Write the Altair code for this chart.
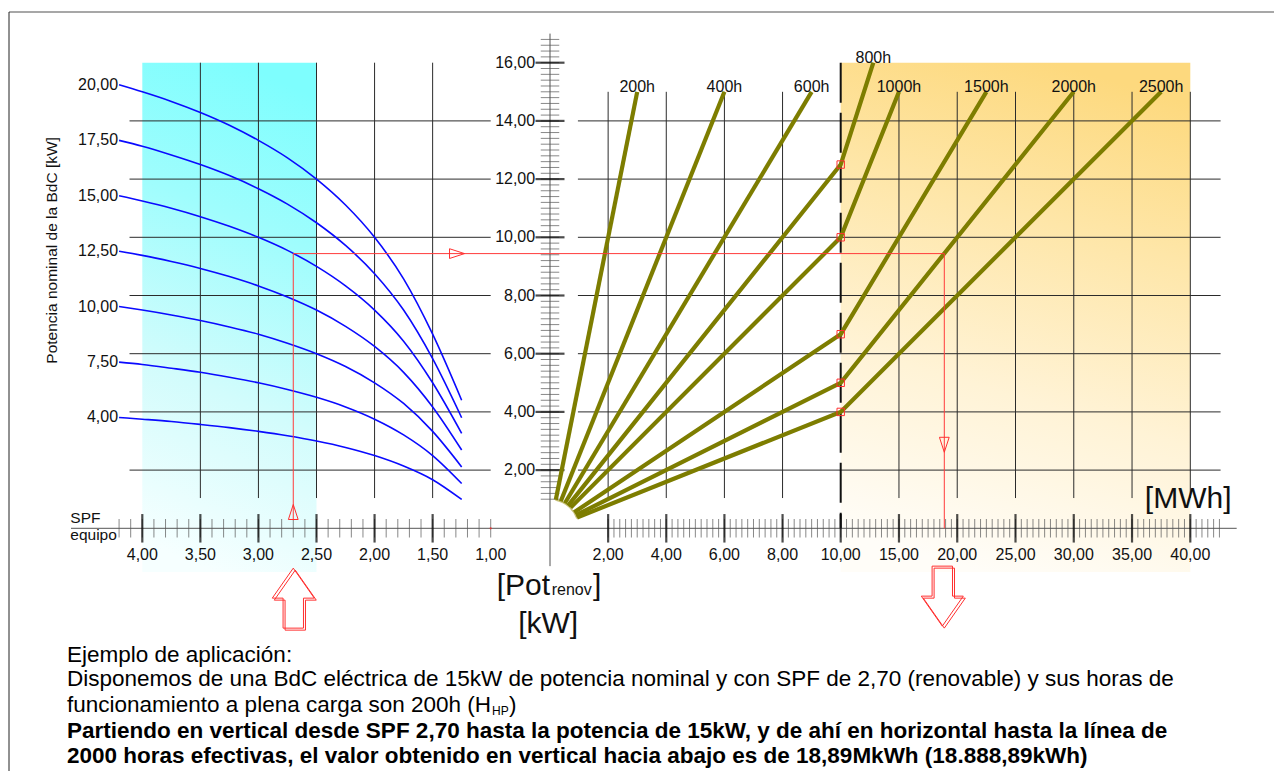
import altair as alt
import pandas as pd

FONT = "Liberation Sans"

# ---------------- values ----------------
# Left panel: SPF of the heat pump (axis runs 4,00 -> 1,00) and renewable power [kW]
spf_points = [4.2, 4.0, 3.75, 3.5, 3.25, 3.0, 2.75, 2.5, 2.25, 2.0, 1.75, 1.5, 1.25]
nominal_labels = ["20,00", "17,50", "15,00", "12,50", "10,00", "7,50", "4,00"]
pot_20 = [15.24, 15.00, 14.67, 14.29, 13.85, 13.33, 12.73, 12.00, 11.11, 10.00, 8.57, 6.67, 4.40]
pot_175 = [13.33, 13.13, 12.83, 12.50, 12.12, 11.67, 11.14, 10.50, 9.72, 8.75, 7.50, 5.83, 3.80]
pot_15 = [11.43, 11.25, 11.00, 10.71, 10.38, 10.00, 9.55, 9.00, 8.33, 7.50, 6.43, 5.00, 3.26]
pot_125 = [9.52, 9.38, 9.17, 8.93, 8.65, 8.33, 7.95, 7.50, 6.94, 6.25, 5.36, 4.17, 2.69]
pot_10 = [7.62, 7.50, 7.33, 7.14, 6.92, 6.67, 6.36, 6.00, 5.56, 5.00, 4.29, 3.33, 2.11]
pot_75 = [5.71, 5.63, 5.50, 5.36, 5.19, 5.00, 4.77, 4.50, 4.17, 3.75, 3.21, 2.50, 1.54]
pot_5 = [3.81, 3.75, 3.67, 3.57, 3.46, 3.33, 3.18, 3.00, 2.78, 2.50, 2.14, 1.67, 0.99]
curves = [pot_20, pot_175, pot_15, pot_125, pot_10, pot_75, pot_5]

# Right panel: equivalent full-load hours lines (energy [MWh] vs renewable power [kW])
hour_labels = ["200h", "400h", "600h", "800h", "1000h", "1500h", "2000h", "2500h"]
start_mwh = [0.20, 0.37, 0.51, 0.62, 0.71, 0.83, 0.89, 0.93]
start_kw = [0.98, 0.93, 0.86, 0.78, 0.71, 0.55, 0.45, 0.37]
knee_mwh = 10.0
knee_kw = [None, None, None, 12.5, 10.0, 6.67, 5.0, 4.0]
end_mwh = [3.0, 6.0, 9.0, 12.8, 15.0, 22.5, 30.0, 37.5]
end_kw = [15.0, 15.0, 15.0, 16.0, 15.0, 15.0, 15.0, 15.0]

# Axes
spf_tick_values = [4.0, 3.5, 3.0, 2.5, 2.0, 1.5, 1.0]
spf_tick_labels = ["4,00", "3,50", "3,00", "2,50", "2,00", "1,50", "1,00"]
mwh_tick_values = [2, 4, 6, 8, 10, 15, 20, 25, 30, 35, 40]
mwh_tick_labels = ["2,00", "4,00", "6,00", "8,00", "10,00", "15,00", "20,00",
                   "25,00", "30,00", "35,00", "40,00"]
kw_tick_values = [2, 4, 6, 8, 10, 12, 14, 16]
kw_tick_labels = ["2,00", "4,00", "6,00", "8,00", "10,00", "12,00", "14,00", "16,00"]

# Worked example
example_spf = 2.70
example_kw = 9.44
example_mwh = 18.89

# ---------------- tables ----------------
rows = []
for lab, vals in zip(nominal_labels, curves):
    for i, (s, v) in enumerate(zip(spf_points, vals)):
        rows.append({"curve": lab, "i": i, "u": -s, "v": v})
curves_df = pd.DataFrame(rows)
curve_lab_df = curves_df[curves_df["i"] == 0]

rows = []
for h, su, sv, kk, eu, ev in zip(hour_labels, start_mwh, start_kw, knee_kw, end_mwh, end_kw):
    pts = [(su, sv)] + ([(knee_mwh, kk)] if kk is not None else []) + [(eu, ev)]
    for i, (u, v) in enumerate(pts):
        rows.append({"h": h, "i": i, "u": u, "v": v})
hours_df = pd.DataFrame(rows)
hour_lab_df = pd.DataFrame({"h": hour_labels, "u": end_mwh, "v": end_kw})
knee_df = pd.DataFrame({"u": [knee_mwh] * 5, "v": [k for k in knee_kw if k is not None]})

spf_minor = [round(4.2 - 0.1 * i, 2) for i in range(33)]
mwh_minor = [round(2 + 0.2 * i, 2) for i in range(41)] + [round(10 + 0.5 * i, 2) for i in range(1, 66)]
kw_minor = [round(1.0 + 0.2 * i, 2) for i in range(80)]

xminor_df = pd.DataFrame({"u": [-s for s in spf_minor] + mwh_minor, "v": 0.0})
xmajor_df = pd.DataFrame({"u": [-s for s in spf_tick_values[:-1]] + mwh_tick_values, "v": 0.0})
xlab_df = pd.DataFrame({"u": [-s for s in spf_tick_values] + mwh_tick_values,
                        "t": spf_tick_labels + mwh_tick_labels, "v": -1.09})
yminor_df = pd.DataFrame({"u": 0.0, "v": kw_minor})
ymajor_df = pd.DataFrame({"u": 0.0, "v": kw_tick_values})
ylab_df = pd.DataFrame({"u": -0.25, "v": kw_tick_values, "t": kw_tick_labels})

hgrid_df = pd.DataFrame(
    [{"u": -4.11, "u2": -1.0, "v": k} for k in kw_tick_values[:-1]]
    + [{"u": 0.96, "u2": 42.6, "v": k} for k in kw_tick_values[:-1]])
vgrid_df = pd.DataFrame(
    [{"u": -s, "v": 1.04, "v2": 16.0} for s in spf_tick_values[1:-1]]
    + [{"u": m, "v": 1.04, "v2": 15.0} for m in mwh_tick_values if m != 10])

example_df = pd.DataFrame({"i": [0, 1, 2, 3],
                           "u": [-example_spf, -example_spf, example_mwh, example_mwh],
                           "v": [0.28, example_kw, example_kw, 0.0]})

# ---------------- scales ----------------
XS = alt.Scale(domain=[-4, -1, 0, 10, 40], range=[134.3, 482.7, 542.0, 832.7, 1182.3],
               nice=False, zero=False)
YS = alt.Scale(domain=[0, 16], range=[520.3, 54.7], nice=False, zero=False)


def X(f="u"):
    return alt.X(f"{f}:Q", scale=XS, axis=None)


def Y(f="v"):
    return alt.Y(f"{f}:Q", scale=YS, axis=None)


def one(**kw):
    return pd.DataFrame([kw])


layers = []

# background regions with gradients
cyan = alt.Gradient(gradient="linear", x1=0.55, y1=0, x2=0.4, y2=1,
                    stops=[alt.GradientStop(color="#7efefe", offset=0),
                           alt.GradientStop(color="#9ffdfd", offset=0.3),
                           alt.GradientStop(color="#d2fcfc", offset=0.65),
                           alt.GradientStop(color="#f6ffff", offset=1)])
orange = alt.Gradient(gradient="linear", x1=0.6, y1=0, x2=0.4, y2=1,
                      stops=[alt.GradientStop(color="#fdd97e", offset=0),
                             alt.GradientStop(color="#fee6a8", offset=0.3),
                             alt.GradientStop(color="#fff3d6", offset=0.65),
                             alt.GradientStop(color="#fffdf8", offset=1)])
layers.append(alt.Chart(one(u=-4.0, u2=-2.5, v=16.0, v2=-1.5)).mark_rect(fill=cyan)
              .encode(x=X(), x2="u2:Q", y=Y(), y2="v2:Q"))
layers.append(alt.Chart(one(u=10.0, u2=40.0, v=16.0, v2=-1.5)).mark_rect(fill=orange)
              .encode(x=X(), x2="u2:Q", y=Y(), y2="v2:Q"))

# grid
layers.append(alt.Chart(hgrid_df).mark_rule(color="#2b2b2b", strokeWidth=1)
              .encode(x=X(), x2="u2:Q", y=Y()))
layers.append(alt.Chart(vgrid_df).mark_rule(color="#2b2b2b", strokeWidth=1)
              .encode(x=X(), y=Y(), y2="v2:Q"))
layers.append(alt.Chart(one(u=10.0, v=16.0, v2=0.0))
              .mark_rule(color="#111111", strokeWidth=2, strokeDash=[40, 10])
              .encode(x=X(), y=Y(), y2="v2:Q"))

# axes lines and ticks
layers.append(alt.Chart(one(u=-4.614, u2=43.98, v=0.0)).mark_rule(color="#555555", strokeWidth=1)
              .encode(x=X(), x2="u2:Q", y=Y()))
layers.append(alt.Chart(one(u=0.0, v=17.0, v2=-1.3)).mark_rule(color="#555555", strokeWidth=1)
              .encode(x=X(), y=Y(), y2="v2:Q"))
layers.append(alt.Chart(xminor_df).mark_tick(orient="vertical", size=18.5, thickness=1, color="#555555")
              .encode(x=X(), y=Y()))
layers.append(alt.Chart(xmajor_df).mark_tick(orient="vertical", size=28.5, thickness=2.2, color="#000000")
              .encode(x=X(), y=Y()))
layers.append(alt.Chart(yminor_df).mark_tick(orient="horizontal", size=18.5, thickness=1, color="#555555")
              .encode(x=X(), y=Y()))
layers.append(alt.Chart(ymajor_df).mark_tick(orient="horizontal", size=29, thickness=2.2, color="#000000")
              .encode(x=X(), y=Y()))
layers.append(alt.Chart(one(u=-1.0, v=0.0)).mark_point(shape="circle", size=5, filled=True, color="#ff2020")
              .encode(x=X(), y=Y()))

# blue curves
layers.append(alt.Chart(curves_df).mark_line(color="#0a0aff", strokeWidth=1.6, interpolate="monotone")
              .encode(x=X(), y=Y(), detail="curve:N", order="i:Q"))

# olive hour lines
layers.append(alt.Chart(one(u=0.0, v=0.0)).mark_arc(theta=0.19, theta2=1.22, radius=29.5, radius2=28.0,
                                                      color="#c9c27a")
              .encode(x=X(), y=Y()))
layers.append(alt.Chart(hours_df).mark_line(color="#7d7d00", strokeWidth=4.2)
              .encode(x=X(), y=Y(), detail="h:N", order="i:Q"))

# red example path
layers.append(alt.Chart(example_df).mark_line(color="#ff3b3b", strokeWidth=1)
              .encode(x=X(), y=Y(), order="i:Q"))
layers.append(alt.Chart(knee_df).mark_point(shape="square", size=55, filled=False, color="#ff3030",
                                            strokeWidth=1, opacity=1)
              .encode(x=X(), y=Y()))
small_up = "M0,-1 L0.65,1 L-0.65,1 Z"
small_right = "M1,0 L-1,0.65 L-1,-0.65 Z"
small_down = "M0,1 L0.65,-1 L-0.65,-1 Z"
layers.append(alt.Chart(one(u=-example_spf, v=0.56)).mark_point(shape=small_up, size=225, filled=False,
                                                                color="#ff3030", strokeWidth=1, opacity=1)
              .encode(x=X(), y=Y()))
layers.append(alt.Chart(one(u=-1.29, v=example_kw)).mark_point(shape=small_right, size=225, filled=False,
                                                               color="#ff3030", strokeWidth=1, opacity=1)
              .encode(x=X(), y=Y()))
layers.append(alt.Chart(one(u=example_mwh, v=2.87)).mark_point(shape=small_down, size=225, filled=False,
                                                               color="#ff3030", strokeWidth=1, opacity=1)
              .encode(x=X(), y=Y()))

big_up = "M0,-1 L0.7,0 L0.34,0 L0.34,1 L-0.34,1 L-0.34,0 L-0.7,0 Z"
big_down = "M0,1 L0.7,0 L0.34,0 L0.34,-1 L-0.34,-1 L-0.34,0 L-0.7,0 Z"
for dx, dy in [(2, 2), (0, 0)]:
    layers.append(alt.Chart(one(u=-example_spf, v=-2.4)).mark_point(
        shape=big_up, size=3600, filled=False, color="#ff3030", strokeWidth=1, opacity=1,
        xOffset=dx, yOffset=dy).encode(x=X(), y=Y()))
for dx, dy in [(-2, -2), (0, 0)]:
    layers.append(alt.Chart(one(u=example_mwh, v=-2.4)).mark_point(
        shape=big_down, size=3600, filled=False, color="#ff3030", strokeWidth=1, opacity=1,
        xOffset=dx, yOffset=dy).encode(x=X(), y=Y()))

# texts
layers.append(alt.Chart(xlab_df).mark_text(font=FONT, fontSize=16, align="center", baseline="alphabetic",
                                           color="#111111")
              .encode(x=X(), y=Y(), text="t:N"))
layers.append(alt.Chart(ylab_df).mark_text(font=FONT, fontSize=16, align="right", baseline="middle",
                                           color="#111111")
              .encode(x=X(), y=Y(), text="t:N"))
layers.append(alt.Chart(curve_lab_df).mark_text(font=FONT, fontSize=16, align="right", baseline="middle",
                                                dx=-1, color="#111111")
              .encode(x=X(), y=Y(), text="curve:N"))
layers.append(alt.Chart(hour_lab_df).mark_text(font=FONT, fontSize=16, align="center", baseline="alphabetic",
                                               color="#111111")
              .encode(x=X(), y=Y(), text="h:N"))
layers.append(alt.Chart(pd.DataFrame({"u": [-4.62, -4.62], "v": [0.18, -0.40], "t": ["SPF", "equipo"]}))
              .mark_text(font=FONT, fontSize=15.5, align="left", baseline="alphabetic", color="#111111")
              .encode(x=X(), y=Y(), text="t:N"))
layers.append(alt.Chart(one(u=-4.78, v=9.55, t="Potencia nominal de la BdC [kW]"))
              .mark_text(font=FONT, fontSize=15.5, angle=270, align="center", baseline="middle",
                         color="#111111")
              .encode(x=X(), y=Y(), text="t:N"))
big = dict(font=FONT, fontSize=30, baseline="alphabetic", color="#111111")
layers.append(alt.Chart(one(u=36.1, v=0.69, t="[MWh]")).mark_text(align="left", **big)
              .encode(x=X(), y=Y(), text="t:N"))
layers.append(alt.Chart(one(u=-0.9, v=-2.29, t="[Pot")).mark_text(align="left", **big)
              .encode(x=X(), y=Y(), text="t:N"))
layers.append(alt.Chart(one(u=0.06, v=-2.29, t="renov")).mark_text(
    align="left", font=FONT, fontSize=16, baseline="alphabetic", color="#111111")
              .encode(x=X(), y=Y(), text="t:N"))
layers.append(alt.Chart(one(u=1.48, v=-2.29, t="]")).mark_text(align="left", **big)
              .encode(x=X(), y=Y(), text="t:N"))
layers.append(alt.Chart(one(u=-0.03, v=-3.61, t="[kW]")).mark_text(align="center", **big)
              .encode(x=X(), y=Y(), text="t:N"))

# explanatory paragraph (layout text)
PARA = 22.5
para = [
    ("Ejemplo de aplicación:", 647, "normal"),
    ("Disponemos de una BdC eléctrica de 15kW de potencia nominal y con SPF de 2,70 (renovable) y sus horas de",
     671, "normal"),
    ("funcionamiento a plena carga son 200h (H", 697, "normal"),
    ("Partiendo en vertical desde SPF 2,70 hasta la potencia de 15kW, y de ahí en horizontal hasta la línea de",
     723, "bold"),
    ("2000 horas efectivas, el valor obtenido en vertical hacia abajo es de 18,89MkWh (18.888,89kWh)",
     748, "bold"),
]
for txt, yy, fw in para:
    layers.append(alt.Chart(pd.DataFrame({"t": [txt]})).mark_text(
        font=FONT, fontSize=PARA, fontWeight=fw, align="left", baseline="middle", color="#000000")
        .encode(x=alt.value(59), y=alt.value(yy), text="t:N"))
layers.append(alt.Chart(pd.DataFrame({"t": ["HP"]})).mark_text(
    font=FONT, fontSize=12, align="left", baseline="middle", color="#000000")
    .encode(x=alt.value(484), y=alt.value(703), text="t:N"))
layers.append(alt.Chart(pd.DataFrame({"t": [")"]})).mark_text(
    font=FONT, fontSize=PARA, align="left", baseline="middle", color="#000000")
    .encode(x=alt.value(501), y=alt.value(697), text="t:N"))

# frame (top and left edges of the original picture)
layers.append(alt.Chart(pd.DataFrame({"k": [0]})).mark_rule(color="#8a8a8a", strokeWidth=1.5)
              .encode(x=alt.value(1), x2=alt.value(1266), y=alt.value(4)))
layers.append(alt.Chart(pd.DataFrame({"k": [0]})).mark_rule(color="#222222", strokeWidth=1)
              .encode(x=alt.value(1), y=alt.value(4), y2=alt.value(763)))

chart = alt.layer(*layers).properties(
    width=1266, height=763, autosize=alt.AutoSizeParams(type="none"), padding=0,
    background="white"
).configure_view(strokeWidth=0)

chart.save("out.html", embed_options={"renderer": "svg", "actions": False})
